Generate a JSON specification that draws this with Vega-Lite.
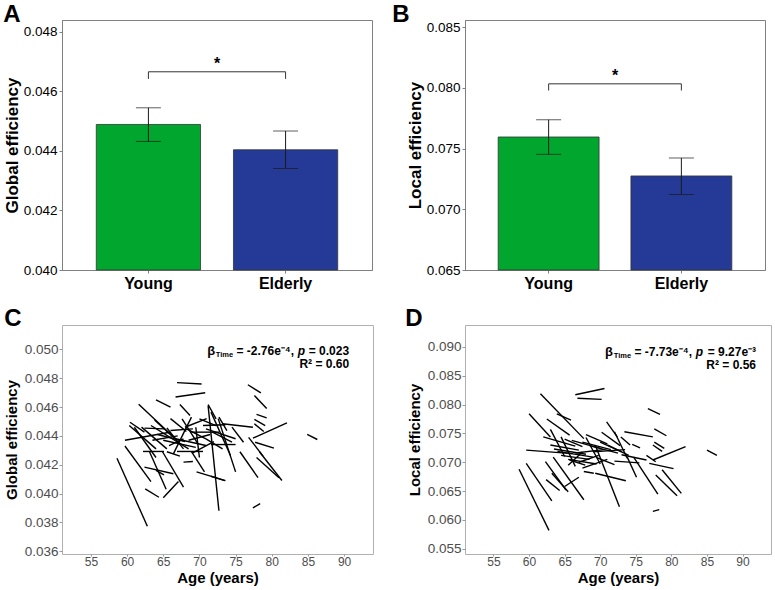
{
"$schema": "https://vega.github.io/schema/vega-lite/v6.json",
"padding": {"left": 2, "right": 3, "top": 2, "bottom": 0},
"config": {
 "font": "Liberation Sans",
 "title": {"fontSize": 24, "fontWeight": "bold", "anchor": "start", "frame": "bounds", "color": "#000", "offset": -7, "baseline": "alphabetic"},
 "axis": {"grid": false, "labelOverlap": false}
},
"datasets": {
 "bars": [
  {"panel": "A", "group": "Young", "mean": 0.04489, "lo": 0.04432, "hi": 0.04545},
  {"panel": "A", "group": "Elderly", "mean": 0.04404, "lo": 0.04341, "hi": 0.04467},
  {"panel": "B", "group": "Young", "mean": 0.07596, "lo": 0.07453, "hi": 0.07738},
  {"panel": "B", "group": "Elderly", "mean": 0.07275, "lo": 0.07122, "hi": 0.07423}
 ],
 "brackets": [
  {"panel": "A", "group": "Young", "level": 0.04642, "step": 1},
  {"panel": "A", "group": "Young", "level": 0.04666, "step": 2},
  {"panel": "A", "group": "Elderly", "level": 0.04666, "step": 3},
  {"panel": "A", "group": "Elderly", "level": 0.04642, "step": 4},
  {"panel": "B", "group": "Young", "level": 0.07979, "step": 1},
  {"panel": "B", "group": "Young", "level": 0.08034, "step": 2},
  {"panel": "B", "group": "Elderly", "level": 0.08034, "step": 3},
  {"panel": "B", "group": "Elderly", "level": 0.07979, "step": 4}
 ],
 "trajC": [
  {"id":1,"age":58.6,"eff":0.04245},{"id":1,"age":62.8,"eff":0.03773},
  {"id":2,"age":59.7,"eff":0.0433},{"id":2,"age":63.3,"eff":0.04083},
  {"id":3,"age":59.7,"eff":0.0437},{"id":3,"age":65.9,"eff":0.04425},
  {"id":4,"age":61.6,"eff":0.0462},{"id":4,"age":66.9,"eff":0.0437},
  {"id":5,"age":64.0,"eff":0.0465},{"id":5,"age":66.0,"eff":0.046},
  {"id":6,"age":66.9,"eff":0.0477},{"id":6,"age":70.3,"eff":0.0476},
  {"id":7,"age":66.7,"eff":0.0467},{"id":7,"age":70.8,"eff":0.047},
  {"id":8,"age":62.5,"eff":0.04032},{"id":8,"age":64.4,"eff":0.03974},
  {"id":9,"age":65.0,"eff":0.0397},{"id":9,"age":67.1,"eff":0.04083},
  {"id":10,"age":62.4,"eff":0.04183},{"id":10,"age":66.4,"eff":0.04137},
  {"id":11,"age":63.1,"eff":0.0429},{"id":11,"age":65.4,"eff":0.0403},
  {"id":12,"age":64.9,"eff":0.0429},{"id":12,"age":67.8,"eff":0.04044},
  {"id":13,"age":67.8,"eff":0.04218},{"id":13,"age":69.1,"eff":0.04222},
  {"id":14,"age":69.6,"eff":0.0415},{"id":14,"age":73.6,"eff":0.0409},
  {"id":15,"age":71.2,"eff":0.0461},{"id":15,"age":72.7,"eff":0.0388},
  {"id":16,"age":77.4,"eff":0.039},{"id":16,"age":78.4,"eff":0.0393},
  {"id":17,"age":84.9,"eff":0.0441},{"id":17,"age":86.3,"eff":0.04375},
  {"id":18,"age":76.7,"eff":0.04755},{"id":18,"age":78.5,"eff":0.04699},
  {"id":19,"age":77.6,"eff":0.0468},{"id":19,"age":79.3,"eff":0.0459},
  {"id":20,"age":77.9,"eff":0.04549},{"id":20,"age":79.3,"eff":0.04525},
  {"id":21,"age":77.6,"eff":0.04514},{"id":21,"age":79.1,"eff":0.04472},
  {"id":22,"age":77.6,"eff":0.04484},{"id":22,"age":78.9,"eff":0.0443},
  {"id":23,"age":77.4,"eff":0.04384},{"id":23,"age":82.1,"eff":0.04491},
  {"id":24,"age":77.7,"eff":0.04356},{"id":24,"age":80.3,"eff":0.04315},
  {"id":25,"age":76.8,"eff":0.0439},{"id":25,"age":78.8,"eff":0.0426},
  {"id":26,"age":72.6,"eff":0.0452},{"id":26,"age":75.0,"eff":0.0415},
  {"id":27,"age":75.6,"eff":0.0429},{"id":27,"age":78.1,"eff":0.0411},
  {"id":28,"age":77.9,"eff":0.0425},{"id":28,"age":81.0,"eff":0.0411},
  {"id":29,"age":78.3,"eff":0.0429},{"id":29,"age":81.4,"eff":0.0409},
  {"id":30,"age":71.6,"eff":0.0412},{"id":30,"age":73.5,"eff":0.0409},
  {"id":31,"age":73.2,"eff":0.04484},{"id":31,"age":77.4,"eff":0.0446},
  {"id":32,"age":71.6,"eff":0.0434},{"id":32,"age":75.0,"eff":0.0434},
  {"id":33,"age":61.0,"eff":0.0446},{"id":33,"age":64.0,"eff":0.0425},
  {"id":34,"age":60.3,"eff":0.04472},{"id":34,"age":64.0,"eff":0.0431},
  {"id":35,"age":60.4,"eff":0.04495},{"id":35,"age":62.4,"eff":0.04426},
  {"id":36,"age":62.0,"eff":0.04461},{"id":36,"age":65.5,"eff":0.0431},
  {"id":37,"age":62.2,"eff":0.04292},{"id":37,"age":65.1,"eff":0.04292},
  {"id":38,"age":62.4,"eff":0.04454},{"id":38,"age":65.1,"eff":0.04449},
  {"id":39,"age":63.3,"eff":0.04472},{"id":39,"age":68.5,"eff":0.0431},
  {"id":40,"age":65.5,"eff":0.04456},{"id":40,"age":67.8,"eff":0.0431},
  {"id":41,"age":65.8,"eff":0.04333},{"id":41,"age":67.8,"eff":0.0438},
  {"id":42,"age":66.0,"eff":0.04437},{"id":42,"age":69.1,"eff":0.04449},
  {"id":43,"age":66.4,"eff":0.04275},{"id":43,"age":68.9,"eff":0.0453},
  {"id":44,"age":66.7,"eff":0.0438},{"id":44,"age":70.9,"eff":0.04333},
  {"id":45,"age":66.9,"eff":0.04292},{"id":45,"age":70.5,"eff":0.04292},
  {"id":46,"age":67.3,"eff":0.04618},{"id":46,"age":68.7,"eff":0.04542},
  {"id":47,"age":67.6,"eff":0.04518},{"id":47,"age":69.8,"eff":0.04345},
  {"id":48,"age":68.2,"eff":0.04449},{"id":48,"age":70.9,"eff":0.0438},
  {"id":49,"age":68.9,"eff":0.04426},{"id":49,"age":72.7,"eff":0.04426},
  {"id":50,"age":70.0,"eff":0.04518},{"id":50,"age":72.3,"eff":0.04472},
  {"id":51,"age":70.5,"eff":0.04472},{"id":51,"age":73.6,"eff":0.04477},
  {"id":52,"age":70.9,"eff":0.04449},{"id":52,"age":75.0,"eff":0.0438},
  {"id":53,"age":71.2,"eff":0.04618},{"id":53,"age":72.3,"eff":0.04518},
  {"id":54,"age":71.8,"eff":0.04426},{"id":54,"age":74.5,"eff":0.04356},
  {"id":55,"age":72.7,"eff":0.0453},{"id":55,"age":73.8,"eff":0.04437},
  {"id":56,"age":74.5,"eff":0.04461},{"id":56,"age":76.1,"eff":0.04356},
  {"id":57,"age":70.9,"eff":0.0438},{"id":57,"age":73.2,"eff":0.0431},
  {"id":58,"age":63.5,"eff":0.0437},{"id":58,"age":67.0,"eff":0.044},
  {"id":59,"age":64.2,"eff":0.0441},{"id":59,"age":68.0,"eff":0.0436},
  {"id":60,"age":65.0,"eff":0.0437},{"id":60,"age":69.5,"eff":0.0432},
  {"id":61,"age":68.5,"eff":0.0437},{"id":61,"age":71.5,"eff":0.0441},
  {"id":62,"age":69.0,"eff":0.0428},{"id":62,"age":72.0,"eff":0.0436},
  {"id":63,"age":68.0,"eff":0.0446},{"id":63,"age":71.0,"eff":0.0452},
  {"id":64,"age":69.5,"eff":0.0446},{"id":64,"age":70.0,"eff":0.0425},
  {"id":65,"age":71.6,"eff":0.04565},{"id":65,"age":74.3,"eff":0.04264},
  {"id":66,"age":64.0,"eff":0.0416},{"id":66,"age":65.1,"eff":0.0413},
  {"id":67,"age":65.5,"eff":0.0429},{"id":67,"age":67.3,"eff":0.0426},
  {"id":68,"age":68.9,"eff":0.0429},{"id":68,"age":70.7,"eff":0.0415},
  {"id":69,"age":63.8,"eff":0.0451},{"id":69,"age":66.2,"eff":0.044},
  {"id":70,"age":66.0,"eff":0.0452},{"id":70,"age":68.2,"eff":0.0443}
 ],
 "trajD": [
  {"id":1,"age":58.6,"eff":0.0688},{"id":1,"age":62.8,"eff":0.0582},
  {"id":2,"age":59.6,"eff":0.0698},{"id":2,"age":63.2,"eff":0.0633},
  {"id":3,"age":60.0,"eff":0.0784},{"id":3,"age":63.0,"eff":0.0744},
  {"id":4,"age":59.6,"eff":0.0721},{"id":4,"age":66.1,"eff":0.0715},
  {"id":5,"age":61.6,"eff":0.0819},{"id":5,"age":67.7,"eff":0.0741},
  {"id":6,"age":63.9,"eff":0.0784},{"id":6,"age":65.9,"eff":0.0773},
  {"id":7,"age":62.5,"eff":0.0775},{"id":7,"age":65.7,"eff":0.0747},
  {"id":8,"age":66.5,"eff":0.0817},{"id":8,"age":70.6,"eff":0.0828},
  {"id":9,"age":66.8,"eff":0.0811},{"id":9,"age":70.2,"eff":0.0809},
  {"id":10,"age":62.4,"eff":0.067},{"id":10,"age":64.3,"eff":0.0651},
  {"id":11,"age":63.2,"eff":0.0681},{"id":11,"age":65.5,"eff":0.0649},
  {"id":12,"age":65.0,"eff":0.0658},{"id":12,"age":67.0,"eff":0.0674},
  {"id":13,"age":63.4,"eff":0.0709},{"id":13,"age":67.7,"eff":0.0635},
  {"id":14,"age":67.7,"eff":0.0684},{"id":14,"age":69.1,"eff":0.0681},
  {"id":15,"age":69.3,"eff":0.0681},{"id":15,"age":73.6,"eff":0.0668},
  {"id":16,"age":69.3,"eff":0.073},{"id":16,"age":72.7,"eff":0.0623},
  {"id":17,"age":73.4,"eff":0.0753},{"id":17,"age":77.4,"eff":0.0744},
  {"id":18,"age":76.7,"eff":0.0793},{"id":18,"age":78.4,"eff":0.0783},
  {"id":19,"age":77.6,"eff":0.0758},{"id":19,"age":79.3,"eff":0.0746},
  {"id":20,"age":77.6,"eff":0.0735},{"id":20,"age":79.0,"eff":0.0724},
  {"id":21,"age":77.4,"eff":0.073},{"id":21,"age":78.7,"eff":0.0719},
  {"id":22,"age":77.4,"eff":0.0704},{"id":22,"age":82.0,"eff":0.0727},
  {"id":23,"age":85.0,"eff":0.0721},{"id":23,"age":86.4,"eff":0.0712},
  {"id":24,"age":74.5,"eff":0.0731},{"id":24,"age":75.6,"eff":0.0725},
  {"id":25,"age":76.9,"eff":0.0698},{"id":25,"age":80.3,"eff":0.0689},
  {"id":26,"age":73.8,"eff":0.0709},{"id":26,"age":75.1,"eff":0.0674},
  {"id":27,"age":74.7,"eff":0.0709},{"id":27,"age":78.1,"eff":0.0645},
  {"id":28,"age":77.8,"eff":0.0678},{"id":28,"age":80.8,"eff":0.0642},
  {"id":29,"age":78.7,"eff":0.0687},{"id":29,"age":81.4,"eff":0.0646},
  {"id":30,"age":77.4,"eff":0.0615},{"id":30,"age":78.3,"eff":0.0618},
  {"id":31,"age":70.9,"eff":0.077},{"id":31,"age":72.4,"eff":0.0744},
  {"id":32,"age":72.0,"eff":0.0753},{"id":32,"age":73.8,"eff":0.0707},
  {"id":33,"age":72.9,"eff":0.0744},{"id":33,"age":74.2,"eff":0.073},
  {"id":34,"age":76.5,"eff":0.0712},{"id":34,"age":77.8,"eff":0.0701},
  {"id":35,"age":62.3,"eff":0.0701},{"id":35,"age":65.2,"eff":0.0652},
  {"id":36,"age":65.7,"eff":0.0704},{"id":36,"age":67.9,"eff":0.0695},
  {"id":37,"age":62.0,"eff":0.0744},{"id":37,"age":66.5,"eff":0.0728},
  {"id":38,"age":63.0,"eff":0.073},{"id":38,"age":67.0,"eff":0.0721},
  {"id":39,"age":63.5,"eff":0.0723},{"id":39,"age":68.0,"eff":0.0714},
  {"id":40,"age":64.0,"eff":0.0719},{"id":40,"age":69.0,"eff":0.0709},
  {"id":41,"age":64.5,"eff":0.0712},{"id":41,"age":68.5,"eff":0.0705},
  {"id":42,"age":65.0,"eff":0.074},{"id":42,"age":67.5,"eff":0.0727},
  {"id":43,"age":65.5,"eff":0.0705},{"id":43,"age":69.5,"eff":0.0697},
  {"id":44,"age":66.0,"eff":0.0738},{"id":44,"age":70.0,"eff":0.0724},
  {"id":45,"age":66.5,"eff":0.0716},{"id":45,"age":70.5,"eff":0.0722},
  {"id":46,"age":67.0,"eff":0.07},{"id":46,"age":69.8,"eff":0.0712},
  {"id":47,"age":67.5,"eff":0.0735},{"id":47,"age":71.5,"eff":0.0722},
  {"id":48,"age":68.0,"eff":0.0748},{"id":48,"age":71.0,"eff":0.0732},
  {"id":49,"age":68.5,"eff":0.0729},{"id":49,"age":72.5,"eff":0.0716},
  {"id":50,"age":69.0,"eff":0.0718},{"id":50,"age":73.5,"eff":0.0722},
  {"id":51,"age":69.5,"eff":0.0708},{"id":51,"age":72.0,"eff":0.0696},
  {"id":52,"age":70.0,"eff":0.0735},{"id":52,"age":73.0,"eff":0.0718},
  {"id":53,"age":71.0,"eff":0.073},{"id":53,"age":74.0,"eff":0.0712},
  {"id":54,"age":72.0,"eff":0.0702},{"id":54,"age":75.5,"eff":0.0699},
  {"id":55,"age":67.5,"eff":0.069},{"id":55,"age":71.0,"eff":0.0705},
  {"id":56,"age":65.5,"eff":0.0695},{"id":56,"age":67.5,"eff":0.0718},
  {"id":57,"age":63.0,"eff":0.0757},{"id":57,"age":65.0,"eff":0.071},
  {"id":58,"age":64.5,"eff":0.0744},{"id":58,"age":66.5,"eff":0.0693},
  {"id":59,"age":68.0,"eff":0.0743},{"id":59,"age":70.0,"eff":0.0697},
  {"id":60,"age":70.2,"eff":0.0752},{"id":60,"age":72.8,"eff":0.0729},
  {"id":61,"age":73.0,"eff":0.0713},{"id":61,"age":76.5,"eff":0.0704}
 ]
},
"columns": 2,
"spacing": {"row": 14, "column": 17},
"concat": [
  {"width": 310, "height": 250, "view": {"stroke": "#808080"},
   "title": {"text": "A"},
   "layer": [
    {"data": {"name": "bars"}, "transform": [{"filter": "datum.panel === 'A'"}],
     "mark": {"type": "bar", "stroke": "#333333", "strokeWidth": 0.8},
     "encoding": {
      "x": {"field": "group", "type": "nominal", "sort": ["Young", "Elderly"], "scale": {"paddingInner": 0.24, "paddingOuter": 0.25},
            "axis": {"title": null, "labelAngle": 0, "labelFontSize": 16, "labelFontWeight": "bold", "labelColor": "#000", "tickColor": "#808080", "tickSize": 3, "domainColor": "#808080", "labelPadding": 2}},
      "y": {"field": "mean", "type": "quantitative", "title": "Global efficiency", "scale": {"domain": [0.04, 0.0484], "nice": false, "zero": false},
            "axis": {"values": [0.04, 0.042, 0.044, 0.046, 0.048], "format": ".3f", "labelFontSize": 13.5, "labelColor": "#000", "titleFontSize": 17, "titleFontWeight": "bold", "titleColor": "#000", "tickSize": 3, "tickColor": "#808080", "domainColor": "#808080", "labelPadding": 2, "titlePadding": 2}},
      "y2": {"datum": 0.04},
      "color": {"field": "group", "type": "nominal", "scale": {"domain": ["Young", "Elderly"], "range": ["#00A62E", "#243A96"]}, "legend": null}
     }},
    {"data": {"name": "bars"}, "transform": [{"filter": "datum.panel === 'A'"}],
     "mark": {"type": "rule", "color": "#1a1a1a", "strokeWidth": 1},
     "encoding": {"x": {"field": "group", "type": "nominal", "sort": ["Young", "Elderly"]}, "y": {"field": "lo", "type": "quantitative", "title": "Global efficiency"}, "y2": {"field": "hi"}}},
    {"data": {"name": "bars"}, "transform": [{"filter": "datum.panel === 'A'"}],
     "mark": {"type": "tick", "size": 25, "thickness": 1, "color": "#1a1a1a"},
     "encoding": {"x": {"field": "group", "type": "nominal", "sort": ["Young", "Elderly"]}, "y": {"field": "lo", "type": "quantitative", "title": "Global efficiency"}}},
    {"data": {"name": "bars"}, "transform": [{"filter": "datum.panel === 'A'"}],
     "mark": {"type": "tick", "size": 25, "thickness": 1, "color": "#1a1a1a"},
     "encoding": {"x": {"field": "group", "type": "nominal", "sort": ["Young", "Elderly"]}, "y": {"field": "hi", "type": "quantitative", "title": "Global efficiency"}}},
    {"data": {"name": "brackets"}, "transform": [{"filter": "datum.panel === 'A'"}],
     "mark": {"type": "line", "color": "#333333", "strokeWidth": 1},
     "encoding": {"x": {"field": "group", "type": "nominal", "sort": ["Young", "Elderly"]}, "y": {"field": "level", "type": "quantitative", "title": "Global efficiency"}, "order": {"field": "step"}}},
    {"data": {"name": "bars"}, "transform": [{"filter": "datum.panel === 'A' && datum.group === 'Young'"}],
     "mark": {"type": "text", "text": "*", "fontSize": 16, "fontWeight": "bold", "baseline": "alphabetic", "color": "#000"},
     "encoding": {"x": {"field": "group", "type": "nominal", "sort": ["Young", "Elderly"], "bandPosition": 1.16}, "y": {"datum": 0.04676}}}
   ]},
  {"width": 300, "height": 250, "view": {"stroke": "#808080"},
   "title": {"text": "B", "dx": -14},
   "layer": [
    {"data": {"name": "bars"}, "transform": [{"filter": "datum.panel === 'B'"}],
     "mark": {"type": "bar", "stroke": "#333333", "strokeWidth": 0.8},
     "encoding": {
      "x": {"field": "group", "type": "nominal", "sort": ["Young", "Elderly"], "scale": {"paddingInner": 0.24, "paddingOuter": 0.25},
            "axis": {"title": null, "labelAngle": 0, "labelFontSize": 16, "labelFontWeight": "bold", "labelColor": "#000", "tickColor": "#808080", "tickSize": 3, "domainColor": "#808080", "labelPadding": 2}},
      "y": {"field": "mean", "type": "quantitative", "title": "Local efficiency", "scale": {"domain": [0.065, 0.0856], "nice": false, "zero": false},
            "axis": {"values": [0.065, 0.07, 0.075, 0.08, 0.085], "format": ".3f", "labelFontSize": 13.5, "labelColor": "#000", "titleFontSize": 17, "titleFontWeight": "bold", "titleColor": "#000", "tickSize": 3, "tickColor": "#808080", "domainColor": "#808080", "labelPadding": 2, "titlePadding": 2}},
      "y2": {"datum": 0.065},
      "color": {"field": "group", "type": "nominal", "scale": {"domain": ["Young", "Elderly"], "range": ["#00A62E", "#243A96"]}, "legend": null}
     }},
    {"data": {"name": "bars"}, "transform": [{"filter": "datum.panel === 'B'"}],
     "mark": {"type": "rule", "color": "#1a1a1a", "strokeWidth": 1},
     "encoding": {"x": {"field": "group", "type": "nominal", "sort": ["Young", "Elderly"]}, "y": {"field": "lo", "type": "quantitative", "title": "Local efficiency"}, "y2": {"field": "hi"}}},
    {"data": {"name": "bars"}, "transform": [{"filter": "datum.panel === 'B'"}],
     "mark": {"type": "tick", "size": 25, "thickness": 1, "color": "#1a1a1a"},
     "encoding": {"x": {"field": "group", "type": "nominal", "sort": ["Young", "Elderly"]}, "y": {"field": "lo", "type": "quantitative", "title": "Local efficiency"}}},
    {"data": {"name": "bars"}, "transform": [{"filter": "datum.panel === 'B'"}],
     "mark": {"type": "tick", "size": 25, "thickness": 1, "color": "#1a1a1a"},
     "encoding": {"x": {"field": "group", "type": "nominal", "sort": ["Young", "Elderly"]}, "y": {"field": "hi", "type": "quantitative", "title": "Local efficiency"}}},
    {"data": {"name": "brackets"}, "transform": [{"filter": "datum.panel === 'B'"}],
     "mark": {"type": "line", "color": "#333333", "strokeWidth": 1},
     "encoding": {"x": {"field": "group", "type": "nominal", "sort": ["Young", "Elderly"]}, "y": {"field": "level", "type": "quantitative", "title": "Local efficiency"}, "order": {"field": "step"}}},
    {"data": {"name": "bars"}, "transform": [{"filter": "datum.panel === 'B' && datum.group === 'Young'"}],
     "mark": {"type": "text", "text": "*", "fontSize": 16, "fontWeight": "bold", "baseline": "alphabetic", "color": "#000"},
     "encoding": {"x": {"field": "group", "type": "nominal", "sort": ["Young", "Elderly"], "bandPosition": 1.16}, "y": {"datum": 0.0806}}}
   ]},
  {"width": 311, "height": 229, "view": {"stroke": "#b0b0b0"},
   "title": {"text": "C", "offset": -6},
   "layer": [
    {"data": {"name": "trajC"},
     "mark": {"type": "line", "color": "#000", "strokeWidth": 1.4},
     "encoding": {
      "x": {"field": "age", "type": "quantitative", "title": "Age (years)", "scale": {"domain": [51, 94], "nice": false, "zero": false},
            "axis": {"values": [55, 60, 65, 70, 75, 80, 85, 90], "titleFontSize": 15, "titleFontWeight": "bold", "titleColor": "#000", "labelFontSize": 12, "labelColor": "#4d4d4d", "tickColor": "#999999", "tickSize": 2, "domain": false, "labelPadding": 0, "titlePadding": 3}},
      "y": {"field": "eff", "type": "quantitative", "title": "Global efficiency", "scale": {"domain": [0.0358, 0.0517], "nice": false, "zero": false},
            "axis": {"values": [0.036, 0.038, 0.04, 0.042, 0.044, 0.046, 0.048, 0.05], "format": ".3f", "titleFontSize": 15, "titleFontWeight": "bold", "titleColor": "#000", "labelFontSize": 13.5, "labelColor": "#4d4d4d", "tickColor": "#999999", "tickSize": 3, "domain": false, "labelPadding": 1, "titlePadding": 5}},
      "detail": {"field": "id", "type": "nominal"}
     }},
    {"data": {"values": [{"label": "= 0.023"}]}, "mark": {"type": "text", "fontSize": 12, "fontWeight": "bold", "align": "right", "baseline": "alphabetic", "color": "#000"},
     "encoding": {"x": {"datum": 90.7, "axis": {"values": [55, 60, 65, 70, 75, 80, 85, 90]}}, "y": {"datum": 0.0496, "axis": {"values": [0.036, 0.038, 0.04, 0.042, 0.044, 0.046, 0.048, 0.05], "format": ".3f"}}, "text": {"field": "label"}}},
    {"data": {"values": [{"label": "p"}]}, "mark": {"type": "text", "fontSize": 12, "fontWeight": "bold", "fontStyle": "italic", "align": "right", "baseline": "alphabetic", "dx": -44, "color": "#000"},
     "encoding": {"x": {"datum": 90.7, "axis": {"values": [55, 60, 65, 70, 75, 80, 85, 90]}}, "y": {"datum": 0.0496, "axis": {"values": [0.036, 0.038, 0.04, 0.042, 0.044, 0.046, 0.048, 0.05], "format": ".3f"}}, "text": {"field": "label"}}},
    {"data": {"values": [{"label": "= -2.76e⁻⁴,"}]}, "mark": {"type": "text", "fontSize": 12, "fontWeight": "bold", "align": "right", "baseline": "alphabetic", "dx": -55, "color": "#000"},
     "encoding": {"x": {"datum": 90.7, "axis": {"values": [55, 60, 65, 70, 75, 80, 85, 90]}}, "y": {"datum": 0.0496, "axis": {"values": [0.036, 0.038, 0.04, 0.042, 0.044, 0.046, 0.048, 0.05], "format": ".3f"}}, "text": {"field": "label"}}},
    {"data": {"values": [{"label": "Time"}]}, "mark": {"type": "text", "fontSize": 7.5, "fontWeight": "bold", "align": "right", "baseline": "alphabetic", "dx": -116, "dy": 2, "color": "#000"},
     "encoding": {"x": {"datum": 90.7, "axis": {"values": [55, 60, 65, 70, 75, 80, 85, 90]}}, "y": {"datum": 0.0496, "axis": {"values": [0.036, 0.038, 0.04, 0.042, 0.044, 0.046, 0.048, 0.05], "format": ".3f"}}, "text": {"field": "label"}}},
    {"data": {"values": [{"label": "β"}]}, "mark": {"type": "text", "fontSize": 13, "fontWeight": "bold", "align": "right", "baseline": "alphabetic", "dx": -134, "color": "#000"},
     "encoding": {"x": {"datum": 90.7, "axis": {"values": [55, 60, 65, 70, 75, 80, 85, 90]}}, "y": {"datum": 0.0496, "axis": {"values": [0.036, 0.038, 0.04, 0.042, 0.044, 0.046, 0.048, 0.05], "format": ".3f"}}, "text": {"field": "label"}}},
    {"data": {"values": [{"label": "R² = 0.60"}]}, "mark": {"type": "text", "fontSize": 12, "fontWeight": "bold", "align": "right", "baseline": "alphabetic", "color": "#000"},
     "encoding": {"x": {"datum": 90.7, "axis": {"values": [55, 60, 65, 70, 75, 80, 85, 90]}}, "y": {"datum": 0.0487, "axis": {"values": [0.036, 0.038, 0.04, 0.042, 0.044, 0.046, 0.048, 0.05], "format": ".3f"}}, "text": {"field": "label"}}}
   ]},
  {"width": 306, "height": 229, "view": {"stroke": "#b0b0b0"},
   "title": {"text": "D", "dx": -2, "offset": -6},
   "layer": [
    {"data": {"name": "trajD"},
     "mark": {"type": "line", "color": "#000", "strokeWidth": 1.4},
     "encoding": {
      "x": {"field": "age", "type": "quantitative", "title": "Age (years)", "scale": {"domain": [51, 94], "nice": false, "zero": false},
            "axis": {"values": [55, 60, 65, 70, 75, 80, 85, 90], "titleFontSize": 15, "titleFontWeight": "bold", "titleColor": "#000", "labelFontSize": 12, "labelColor": "#4d4d4d", "tickColor": "#999999", "tickSize": 2, "domain": false, "labelPadding": 0, "titlePadding": 3}},
      "y": {"field": "eff", "type": "quantitative", "title": "Local efficiency", "scale": {"domain": [0.0541, 0.0938], "nice": false, "zero": false},
            "axis": {"values": [0.055, 0.06, 0.065, 0.07, 0.075, 0.08, 0.085, 0.09], "format": ".3f", "titleFontSize": 15, "titleFontWeight": "bold", "titleColor": "#000", "labelFontSize": 13.5, "labelColor": "#4d4d4d", "tickColor": "#999999", "tickSize": 3, "domain": false, "labelPadding": 1, "titlePadding": 5}},
      "detail": {"field": "id", "type": "nominal"}
     }},
    {"data": {"values": [{"label": "= 9.27e⁻³"}]}, "mark": {"type": "text", "fontSize": 12, "fontWeight": "bold", "align": "right", "baseline": "alphabetic", "color": "#000"},
     "encoding": {"x": {"datum": 91.9, "axis": {"values": [55, 60, 65, 70, 75, 80, 85, 90]}}, "y": {"datum": 0.08845, "axis": {"values": [0.055, 0.06, 0.065, 0.07, 0.075, 0.08, 0.085, 0.09], "format": ".3f"}}, "text": {"field": "label"}}},
    {"data": {"values": [{"label": "p"}]}, "mark": {"type": "text", "fontSize": 12, "fontWeight": "bold", "fontStyle": "italic", "align": "right", "baseline": "alphabetic", "dx": -53, "color": "#000"},
     "encoding": {"x": {"datum": 91.9, "axis": {"values": [55, 60, 65, 70, 75, 80, 85, 90]}}, "y": {"datum": 0.08845, "axis": {"values": [0.055, 0.06, 0.065, 0.07, 0.075, 0.08, 0.085, 0.09], "format": ".3f"}}, "text": {"field": "label"}}},
    {"data": {"values": [{"label": "= -7.73e⁻⁴,"}]}, "mark": {"type": "text", "fontSize": 12, "fontWeight": "bold", "align": "right", "baseline": "alphabetic", "dx": -64, "color": "#000"},
     "encoding": {"x": {"datum": 91.9, "axis": {"values": [55, 60, 65, 70, 75, 80, 85, 90]}}, "y": {"datum": 0.08845, "axis": {"values": [0.055, 0.06, 0.065, 0.07, 0.075, 0.08, 0.085, 0.09], "format": ".3f"}}, "text": {"field": "label"}}},
    {"data": {"values": [{"label": "Time"}]}, "mark": {"type": "text", "fontSize": 7.5, "fontWeight": "bold", "align": "right", "baseline": "alphabetic", "dx": -125, "dy": 2, "color": "#000"},
     "encoding": {"x": {"datum": 91.9, "axis": {"values": [55, 60, 65, 70, 75, 80, 85, 90]}}, "y": {"datum": 0.08845, "axis": {"values": [0.055, 0.06, 0.065, 0.07, 0.075, 0.08, 0.085, 0.09], "format": ".3f"}}, "text": {"field": "label"}}},
    {"data": {"values": [{"label": "β"}]}, "mark": {"type": "text", "fontSize": 13, "fontWeight": "bold", "align": "right", "baseline": "alphabetic", "dx": -143, "color": "#000"},
     "encoding": {"x": {"datum": 91.9, "axis": {"values": [55, 60, 65, 70, 75, 80, 85, 90]}}, "y": {"datum": 0.08845, "axis": {"values": [0.055, 0.06, 0.065, 0.07, 0.075, 0.08, 0.085, 0.09], "format": ".3f"}}, "text": {"field": "label"}}},
    {"data": {"values": [{"label": "R² = 0.56"}]}, "mark": {"type": "text", "fontSize": 12, "fontWeight": "bold", "align": "right", "baseline": "alphabetic", "color": "#000"},
     "encoding": {"x": {"datum": 91.9, "axis": {"values": [55, 60, 65, 70, 75, 80, 85, 90]}}, "y": {"datum": 0.0862, "axis": {"values": [0.055, 0.06, 0.065, 0.07, 0.075, 0.08, 0.085, 0.09], "format": ".3f"}}, "text": {"field": "label"}}}
   ]}
]
}
